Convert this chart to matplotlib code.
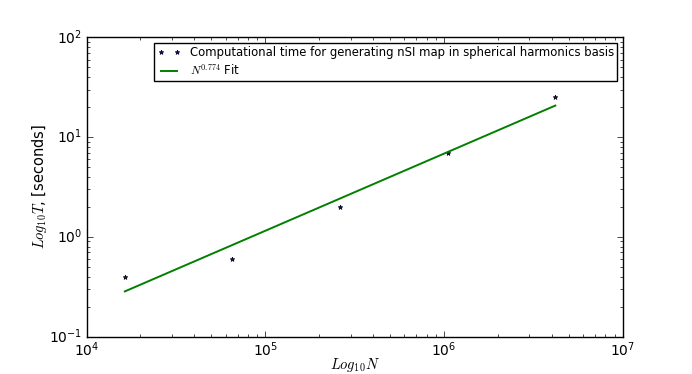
import numpy as np
import matplotlib
matplotlib.use('Agg')
import matplotlib.pyplot as plt

# number of pixels (4^k) and time taken in seconds
n_pix = [16384, 65536, 262144, 1048576, 4194304]
t_sec = [0.4, 0.6, 2.0, 7.0, 25.0]

plt.style.use('classic')

# power-law fit in log-log space
slope, icpt = np.polyfit(np.log10(n_pix), np.log10(t_sec), 1)
fit = 10 ** (icpt + slope * np.log10(n_pix))

fig, ax = plt.subplots(figsize=(6.92, 3.74), dpi=100)
ax.plot(n_pix, t_sec, 'b*', markersize=3.5,
        label='Computational time for generating nSI map in spherical harmonics basis')
ax.plot(n_pix, fit, 'g-', lw=1.4, label=r'$N^{%.3f}$ Fit' % slope)

ax.set_xscale('log')
ax.set_yscale('log')
ax.set_xlim(1e4, 1e7)
ax.set_ylim(1e-1, 1e2)
ax.tick_params(labelsize=10, pad=3)
ax.set_xlabel(r'$Log_{10}N$', fontsize=10.5)
ax.set_ylabel(r'$Log_{10}T$, [seconds]', fontsize=10.5)
ax.xaxis.set_label_coords(0.5, -0.066)
ax.yaxis.set_label_coords(-0.069, 0.5)
ax.legend(loc='upper right', fontsize=8.4, numpoints=2,
          borderpad=0.25, labelspacing=0.35)

plt.savefig('out.png', dpi=100)
